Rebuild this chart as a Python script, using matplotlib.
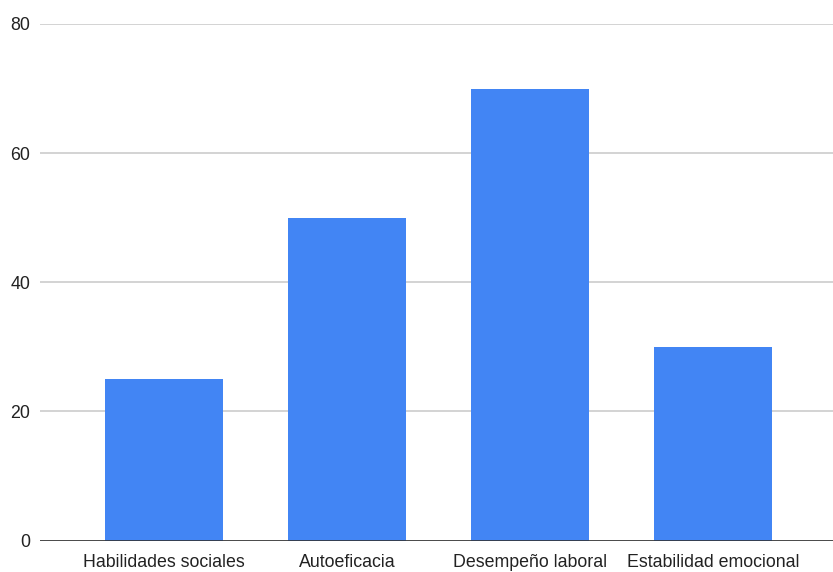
import matplotlib
matplotlib.use("Agg")
import matplotlib.pyplot as plt
from matplotlib.ticker import FixedLocator

categories = ["Habilidades sociales", "Autoeficacia", "Desempeño laboral", "Estabilidad emocional"]
values = [25, 50, 70, 30]
y_ticks = [0, 20, 40, 60, 80]

plt.rcParams["font.family"] = ["Liberation Sans", "DejaVu Sans"]

fig = plt.figure(figsize=(8.33, 5.72), dpi=100)
ax = fig.add_axes([40 / 833, 1 - 540.5 / 572, 1 - 40 / 833, (540.5 - 24) / 572])

x = list(range(len(categories)))
ax.bar(x, values, width=0.645, color="#4285F4", zorder=3)

ax.set_xlim(-0.678, 3.656)
ax.set_ylim(0, 80)
ax.yaxis.set_major_locator(FixedLocator(y_ticks))
ax.set_yticklabels([str(t) for t in y_ticks])
ax.set_xticks(x)
ax.set_xticklabels(categories)

ax.grid(axis="y", color="#cccccc", linewidth=1.2, zorder=0)
ax.axhline(0, color="#333333", linewidth=1.2, zorder=4)
for side in ["top", "right", "left", "bottom"]:
    ax.spines[side].set_visible(False)
ax.tick_params(axis="both", length=0, labelsize=12.8, colors="#222222")
ax.tick_params(axis="y", pad=7)
ax.tick_params(axis="x", pad=10)

fig.savefig("out.png", dpi=100)
